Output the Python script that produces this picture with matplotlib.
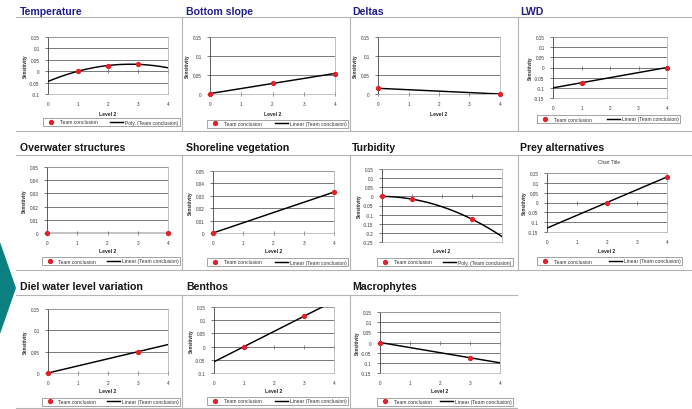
import numpy as np
import matplotlib
matplotlib.use('Agg')
import matplotlib.pyplot as plt
from matplotlib.patches import Polygon
from matplotlib.lines import Line2D

plt.rcParams['font.family'] = ['Liberation Sans', 'DejaVu Sans']

W, H = 692, 410

# ---------------- data ----------------
titles = ["Temperature", "Bottom slope", "Deltas", "LWD",
          "Overwater structures", "Shoreline vegetation", "Turbidity", "Prey alternatives",
          "Diel water level variation", "Benthos", "Macrophytes"]

temperature_x = [1, 2, 3];      temperature_y = [0.0, 0.025, 0.03]
bottom_slope_x = [0, 2, 4];     bottom_slope_y = [0.0, 0.03, 0.053]
deltas_x = [0, 4];              deltas_y = [0.015, 0.0]
lwd_x = [1, 4];                 lwd_y = [-0.075, 0.0]
overwater_x = [0, 4];           overwater_y = [0.0, 0.0]
shoreline_x = [0, 4];           shoreline_y = [0.0, 0.033]
turbidity_x = [0, 1, 3];        turbidity_y = [0.0, -0.015, -0.125]
prey_x = [2, 4];                prey_y = [0.0, 0.13]
diel_x = [0, 3];                diel_y = [0.0, 0.05]
benthos_x = [1, 3];             benthos_y = [0.0, 0.115]
macrophytes_x = [0, 3];         macrophytes_y = [0.0, -0.075]

series_x = [temperature_x, bottom_slope_x, deltas_x, lwd_x, overwater_x, shoreline_x,
            turbidity_x, prey_x, diel_x, benthos_x, macrophytes_x]
series_y = [temperature_y, bottom_slope_y, deltas_y, lwd_y, overwater_y, shoreline_y,
            turbidity_y, prey_y, diel_y, benthos_y, macrophytes_y]

trend_degree = [2, 1, 1, 1, 1, 1, 2, 1, 1, 1, 1]
y_ranges = [(-0.1, 0.15), (0, 0.15), (0, 0.15), (-0.15, 0.15),
            (0, 0.05), (0, 0.05), (-0.25, 0.15), (-0.15, 0.15),
            (0, 0.15), (-0.1, 0.15), (-0.15, 0.15)]
y_steps = [0.05, 0.05, 0.05, 0.05, 0.01, 0.01, 0.05, 0.05, 0.05, 0.05, 0.05]
x_ticks = [0, 1, 2, 3, 4]
point_label = "Team conclusion"
x_label = "Level 2"
y_label = "Sensitivity"

# ---------------- layout (pixels) ----------------
axes_px = [(48, 168, 38, 95), (210, 335, 38, 95), (378, 500, 38, 95), (553, 667, 38, 99),
           (47, 168, 168, 234), (213, 334, 172, 234), (382, 502, 170, 243), (547, 667, 174, 233),
           (48, 168, 310, 374), (214, 334, 308, 374), (380, 500, 313, 374)]
legend_px = [(43, 180, 118, 128), (207, 348, 120, 129), None, (537, 680, 115, 125),
             (42, 180, 257, 267), (207, 348, 258, 268), (377, 513, 258, 268), (537, 682, 257, 267),
             (42, 180, 398, 407), (207, 348, 398, 406), (377, 513, 398, 407)]
show_xticklabels = [True, True, True, True, True, True, False, True, True, True, True]
show_xlabel = [True, True, True, False, True, True, True, True, True, True, True]
xlabel_y = [114, 114, 115, None, 252, 252, 252, 252, 392, 392, 392]
title_xy = [(20, 12), (186, 12), (352, 12), (520, 12),
            (20, 148), (186, 148), (352, 148), (520, 148),
            (20, 287), (186, 287), (352, 287)]
title_colors = ['#1f1f8a'] * 4 + ['#151515'] * 7

fig = plt.figure(figsize=(W / 100, H / 100), dpi=100)
fig.patch.set_facecolor('white')

def fx(x):
    return x / W

def fy(y):
    return 1 - y / H

sep_color = '#b4b4b4'
row_bounds = [(18, 132), (156, 271), (296, 409)]
col_bounds = [(16, 181), (183, 349), (351, 517), (519, 692)]
for ri, (yt, yb) in enumerate(row_bounds):
    ncols = 4 if ri < 2 else 3
    for ci in range(ncols):
        xl, xr = col_bounds[ci]
        fig.add_artist(Line2D([fx(xl), fx(xr)], [fy(yt), fy(yt)], color=sep_color, lw=0.8))
        fig.add_artist(Line2D([fx(xl), fx(xr)], [fy(yb), fy(yb)], color=sep_color, lw=0.8))
        if ci > 0:
            fig.add_artist(Line2D([fx(xl - 1), fx(xl - 1)], [fy(yt), fy(yb)], color=sep_color, lw=0.8))

# teal arrow
fig.add_artist(Polygon([(fx(0), fy(243)), (fx(16), fy(289)), (fx(0), fy(335))],
                       closed=True, facecolor='#0b8080', edgecolor='none'))

for i in range(len(titles)):
    x0, x1, yt, yb = axes_px[i]
    ax = fig.add_axes([fx(x0), fy(yb), (x1 - x0) / W, (yb - yt) / H])
    ymin, ymax = y_ranges[i]
    step = y_steps[i]
    ax.set_xlim(0, 4)
    ax.set_ylim(ymin, ymax)
    yt_vals = np.round(np.arange(ymin, ymax + step / 2, step), 4)
    ax.set_yticks(yt_vals)
    ax.set_yticklabels([f"{v:g}" if abs(v) > 1e-9 else "0" for v in yt_vals])
    ax.set_xticks(x_ticks)
    ax.set_xticklabels([str(v) for v in x_ticks] if show_xticklabels[i] else [])
    ax.yaxis.grid(True, color='#555555', lw=0.55)
    ax.set_axisbelow(True)
    ax.tick_params(axis='y', direction='out', length=2, width=0.5, pad=4,
                   labelsize=3.3, colors='#404040', labelcolor='#333333')
    ax.tick_params(axis='x', length=0, pad=5, labelsize=3.3, labelcolor='#333333')
    for s in ['top', 'right', 'bottom']:
        ax.spines[s].set_color('#a8a8a8')
        ax.spines[s].set_linewidth(0.5)
    ax.spines['left'].set_color('#404040')
    ax.spines['left'].set_linewidth(0.6)

    ax.plot(x_ticks, [0] * len(x_ticks), ls='none', marker='|', ms=2.5, mew=0.5,
            color='#606060', clip_on=False, zorder=2)

    xs = np.array(series_x[i], dtype=float)
    ys = np.array(series_y[i], dtype=float)
    coef = np.polyfit(xs, ys, trend_degree[i])
    xx = np.linspace(0, 4, 200)
    trend_name = ("Poly. (Team conclusion)" if trend_degree[i] == 2
                  else "Linear (Team conclusion)")
    ln, = ax.plot(xx, np.polyval(coef, xx), color='black', lw=1.05, zorder=3, label=trend_name)
    pts, = ax.plot(xs, ys, ls='none', marker='o', ms=2.8, color='#e3202a', mec='#e3202a',
                   zorder=4, clip_on=False, label=point_label)

    fig.text(fx(x0 - 23), fy((yt + yb) / 2), y_label, rotation=90, fontsize=3.3,
             fontweight='bold', ha='center', va='center', color='#222222')
    if show_xlabel[i]:
        fig.text(fx((x0 + x1) / 2), fy(xlabel_y[i]), x_label, fontsize=3.6,
                 fontweight='bold', ha='center', va='center', color='#222222')

    tx, ty = title_xy[i]
    fig.text(fx(tx), fy(ty), titles[i], fontsize=7.6, fontweight='bold',
             ha='left', va='center', color=title_colors[i])

    if legend_px[i] is not None:
        lx0, lx1, lyt, lyb = legend_px[i]
        leg = ax.legend(handles=[pts, ln], loc='center', ncol=2, mode='expand',
                        bbox_to_anchor=(fx(lx0), fy(lyb), (lx1 - lx0) / W, (lyb - lyt) / H),
                        bbox_transform=fig.transFigure, fontsize=3.6, frameon=True,
                        fancybox=False, edgecolor='#606060', borderpad=0.3,
                        handlelength=2.6, handletextpad=0.4, columnspacing=0.6,
                        numpoints=1, borderaxespad=0)
        leg.get_frame().set_linewidth(0.5)
        for t in leg.get_texts():
            t.set_color('#333333')

px0, px1, pyt, pyb = axes_px[7]
fig.text(fx((px0 + px1) / 2 + 2), fy(163), "Chart Title", fontsize=3.4,
         ha='center', va='center', color='#333333')

fig.savefig('out.png', dpi=100, facecolor='white')
